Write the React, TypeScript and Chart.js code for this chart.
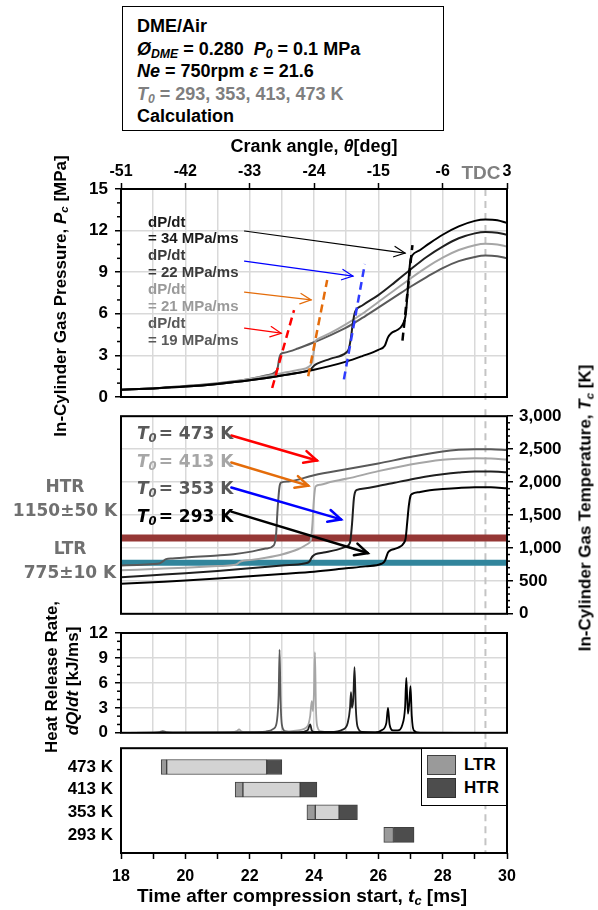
import React, { useEffect, useRef } from 'react';
import { Chart, registerables } from 'chart.js';
Chart.register(...registerables);

const FONT = '"Liberation Sans", Arial, Helvetica, sans-serif';
const FONT2 = '"DejaVu Sans", Verdana, sans-serif';

// ---- axes ----
const tMin = 18;
const tMax = 30;
const tdcTime = 29.33;
const crankMin = -51;
const crankMax = 3;
const crankStep = 9;

// ---- pressure [MPa] ----
const pT293 = [18, 19, 20, 21, 22, 23, 24, 25, 25.5, 26, 26.2, 26.3, 26.4, 26.6, 26.75, 26.85, 26.9, 26.95, 27.0, 27.05, 27.3, 27.6, 28, 28.5, 29, 29.33, 29.7, 30];
const pV293 = [0.52, 0.62, 0.75, 0.94, 1.2, 1.55, 1.97, 2.55, 2.95, 3.4, 3.7, 4.3, 4.6, 4.85, 5.2, 5.9, 7.2, 8.8, 9.9, 10.2, 10.6, 11.1, 11.7, 12.3, 12.7, 12.8, 12.75, 12.55];
const pT353 = [18, 19, 20, 21, 22, 23, 23.8, 23.9, 24.0, 24.1, 24.5, 25.0, 25.08, 25.15, 25.2, 25.25, 25.3, 25.5, 26, 26.5, 27, 27.5, 28, 28.5, 29, 29.33, 29.7, 30];
const pV353 = [0.52, 0.62, 0.75, 0.94, 1.2, 1.55, 1.9, 2.0, 2.25, 2.4, 2.75, 3.2, 3.45, 4.3, 5.2, 5.9, 6.25, 6.6, 7.35, 8.25, 9.2, 10.1, 10.85, 11.45, 11.8, 11.9, 11.85, 11.7];
const pT413 = [18, 19, 20, 21, 21.55, 21.7, 21.8, 22, 22.5, 23, 23.5, 23.85, 23.95, 24.0, 24.05, 24.1, 24.5, 25, 25.5, 26, 26.5, 27, 27.5, 28, 28.5, 29, 29.33, 29.7, 30];
const pV413 = [0.52, 0.62, 0.75, 0.94, 1.1, 1.18, 1.22, 1.3, 1.5, 1.72, 1.95, 2.2, 2.6, 3.4, 4.05, 4.15, 4.6, 5.25, 6.0, 6.85, 7.7, 8.55, 9.35, 10.05, 10.6, 10.95, 11.05, 11.0, 10.85];
const pT473 = [18, 19, 19.25, 19.4, 20, 21, 22, 22.5, 22.8, 22.87, 22.92, 22.97, 23.1, 23.5, 24, 24.5, 25, 25.5, 26, 26.5, 27, 27.5, 28, 28.5, 29, 29.33, 29.7, 30];
const pV473 = [0.52, 0.62, 0.65, 0.7, 0.8, 1.0, 1.3, 1.55, 1.8, 2.1, 2.8, 3.1, 3.2, 3.5, 3.95, 4.45, 5.0, 5.7, 6.45, 7.2, 7.95, 8.65, 9.3, 9.8, 10.1, 10.2, 10.15, 10.0];

// dashed ignition lines (time, pressure) start / end
const ignT473 = [22.7, 23.38];
const ignP473 = [0.65, 6.27];
const ignT413 = [23.82, 24.41];
const ignP413 = [1.5, 8.44];
const ignT353 = [24.93, 25.58];
const ignP353 = [1.27, 9.59];
const ignT293 = [26.75, 27.06];
const ignP293 = [4.06, 10.96];

// pressure arrows: [t1, p1, t2, p2]
const pArrow293 = [21.84, 11.97, 26.83, 10.38];
const pArrow353 = [21.84, 9.8, 25.21, 8.72];
const pArrow413 = [21.84, 7.57, 23.91, 7.0];
const pArrow473 = [21.84, 4.97, 22.98, 4.6];

// ---- temperature [K] ----
const tT293 = [18, 19, 20, 21, 22, 23, 24, 25, 25.6, 26.1, 26.2, 26.3, 26.4, 26.6, 26.8, 26.85, 26.9, 26.95, 27.0, 27.05, 27.3, 27.6, 28, 28.5, 29, 29.5, 30];
const tV293 = [455, 480, 505, 535, 570, 605, 640, 690, 720, 760, 800, 930, 970, 1000, 1080, 1150, 1400, 1650, 1790, 1820, 1850, 1875, 1893, 1910, 1920, 1920, 1905];
const tT353 = [18, 19, 20, 21, 22, 23, 23.7, 23.85, 23.95, 24.05, 24.3, 24.7, 25.0, 25.12, 25.18, 25.24, 25.3, 25.4, 26, 26.5, 27, 27.5, 28, 28.5, 29, 29.5, 30];
const tV353 = [555, 585, 615, 650, 690, 735, 765, 790, 870, 905, 930, 970, 1020, 1080, 1350, 1750, 1870, 1890, 1940, 1990, 2040, 2085, 2120, 2145, 2160, 2160, 2148];
const tT413 = [18, 19, 20, 21, 21.5, 21.6, 21.7, 21.8, 22, 22.5, 23, 23.5, 23.8, 23.9, 23.95, 24.0, 24.05, 24.2, 24.5, 25, 26, 27, 28, 28.5, 29, 29.5, 30];
const tV413 = [660, 680, 700, 725, 740, 755, 790, 805, 815, 850, 900, 980, 1060, 1120, 1350, 1750, 1935, 1960, 2000, 2049, 2166, 2268, 2340, 2355, 2360, 2358, 2342];
const tT473 = [18, 18.5, 19, 19.2, 19.3, 19.4, 19.6, 20, 21, 21.5, 22, 22.5, 22.75, 22.82, 22.87, 22.92, 22.97, 23.2, 24, 25, 26, 27, 28, 28.5, 29, 29.5, 30];
const tV473 = [732, 742, 755, 765, 795, 830, 840, 855, 885, 905, 940, 990, 1040, 1200, 1600, 1900, 1990, 2010, 2105, 2195, 2283, 2380, 2465, 2490, 2500, 2500, 2485];

const htrLevel = 1150;
const ltrLevel = 775;

// temperature arrows: [t1, T1, t2, T2]
const tArrow473 = [21.43, 2707, 24.09, 2327];
const tArrow413 = [21.43, 2298, 23.82, 1946];
const tArrow353 = [21.43, 1917, 24.84, 1434];
const tArrow293 = [21.43, 1551, 25.67, 922];

// ---- heat release rate [kJ/ms] ----
const hT473 = [18, 19.0, 19.2, 19.3, 19.4, 19.6, 21.0, 22.0, 22.5, 22.75, 22.85, 22.9, 22.93, 22.96, 23.0, 23.1, 23.5, 30];
const hV473 = [0, 0.02, 0.08, 0.2, 0.08, 0.03, 0.03, 0.06, 0.15, 0.5, 1.5, 4.5, 10.0, 4.0, 1.0, 0.2, 0.05, 0];
const hT413 = [18, 21.4, 21.6, 21.67, 21.75, 22.0, 23.0, 23.5, 23.8, 23.88, 23.93, 23.97, 24.0, 24.03, 24.06, 24.1, 24.2, 24.5, 30];
const hV413 = [0, 0.03, 0.2, 0.4, 0.15, 0.05, 0.1, 0.3, 0.8, 2.0, 3.8, 2.6, 5.0, 9.7, 3.0, 0.8, 0.2, 0.05, 0];
const hT353 = [18, 23.5, 23.8, 23.88, 23.93, 24.0, 24.5, 24.9, 25.05, 25.12, 25.15, 25.18, 25.22, 25.26, 25.3, 25.35, 25.5, 26, 30];
const hV353 = [0, 0.05, 0.3, 1.0, 0.3, 0.1, 0.1, 0.4, 1.2, 3.0, 4.9, 3.0, 4.0, 7.9, 3.0, 0.8, 0.1, 0, 0];
const hT293 = [18, 25.9, 26.1, 26.25, 26.3, 26.35, 26.45, 26.6, 26.75, 26.83, 26.87, 26.92, 26.96, 27.0, 27.04, 27.1, 27.3, 30];
const hV293 = [0, 0.05, 0.3, 1.2, 3.0, 1.0, 0.3, 0.3, 1.0, 3.0, 6.6, 2.3, 3.5, 5.6, 2.0, 0.3, 0, 0];

// ---- reaction periods [ms] ----
const rowLabels = ['473 K', '413 K', '353 K', '293 K'];
const rowPos = [4, 3, 2, 1];
const ltrStart = [19.25, 21.55, 23.78, 26.17];
const ltrEnd = [19.42, 21.79, 24.04, 26.47];
const ntcEnd = [22.53, 23.57, 24.78, null];
const htrEnd = [23.0, 24.09, 25.35, 27.11];

// ---- colours ----
const c473 = '#595959';
const c413 = '#a6a6a6';
const c353 = '#1f1f1f';
const c293 = '#000000';
const GRID = '#d9d9d9';

const zip = (xs: number[], ys: number[]) => xs.map((x, i) => ({ x, y: ys[i] }));

type Arrow = { a: number[]; color: string; width: number; head: number };
type Minor = { id: string; step: number; major: number; len: number; side: 'left' | 'right' | 'bottom' };

function overlay(cfg: { yId: string; arrows?: Arrow[]; minor?: Minor[]; tdc: { up: number; down: number } }) {
  return {
    id: 'overlay',
    beforeDatasetsDraw(chart: any) {
      const { ctx, chartArea } = chart;
      const x = chart.scales.x.getPixelForValue(tdcTime);
      ctx.save();
      ctx.strokeStyle = '#c4c4c4';
      ctx.lineWidth = 2;
      ctx.setLineDash([7, 5]);
      ctx.beginPath();
      ctx.moveTo(x, chartArea.top - cfg.tdc.up);
      ctx.lineTo(x, chartArea.bottom + cfg.tdc.down);
      ctx.stroke();
      ctx.restore();
    },
    afterDatasetsDraw(chart: any) {
      const { ctx } = chart;
      const xs = chart.scales.x;
      const ys = chart.scales[cfg.yId];
      (cfg.arrows || []).forEach((ar) => {
        const x1 = xs.getPixelForValue(ar.a[0]);
        const y1 = ys.getPixelForValue(ar.a[1]);
        const x2 = xs.getPixelForValue(ar.a[2]);
        const y2 = ys.getPixelForValue(ar.a[3]);
        const ang = Math.atan2(y2 - y1, x2 - x1);
        ctx.save();
        ctx.strokeStyle = ar.color;
        ctx.lineWidth = ar.width;
        ctx.lineCap = 'round';
        ctx.beginPath();
        ctx.moveTo(x1, y1);
        ctx.lineTo(x2, y2);
        ctx.stroke();
        ctx.beginPath();
        ctx.moveTo(x2 - ar.head * Math.cos(ang - 0.45), y2 - ar.head * Math.sin(ang - 0.45));
        ctx.lineTo(x2, y2);
        ctx.lineTo(x2 - ar.head * Math.cos(ang + 0.45), y2 - ar.head * Math.sin(ang + 0.45));
        ctx.stroke();
        ctx.restore();
      });
    },
    afterDraw(chart: any) {
      const { ctx, chartArea } = chart;
      ctx.save();
      ctx.strokeStyle = '#000';
      ctx.lineWidth = 1.5;
      (cfg.minor || []).forEach((m) => {
        const s = chart.scales[m.id];
        for (let v = s.min; v <= s.max + 1e-9; v += m.step) {
          const r = v / m.major;
          if (Math.abs(r - Math.round(r)) < 1e-6) continue;
          const p = s.getPixelForValue(v);
          ctx.beginPath();
          if (m.side === 'left') { ctx.moveTo(chartArea.left - m.len, p); ctx.lineTo(chartArea.left, p); }
          else if (m.side === 'right') { ctx.moveTo(chartArea.right, p); ctx.lineTo(chartArea.right + m.len, p); }
          else { ctx.moveTo(p, chartArea.bottom); ctx.lineTo(p, chartArea.bottom + m.len); }
          ctx.stroke();
        }
      });
      ctx.lineWidth = 2;
      ctx.strokeRect(chartArea.left, chartArea.top, chartArea.right - chartArea.left, chartArea.bottom - chartArea.top);
      ctx.restore();
    },
  };
}

const tickFont = { family: FONT, size: 17, weight: 'bold' as const };

const xGridOnly = () => ({
  type: 'linear' as const,
  position: 'bottom' as const,
  min: tMin,
  max: tMax,
  offset: false,
  ticks: { stepSize: 1, display: false },
  grid: { color: GRID, lineWidth: 1.5, drawTicks: false },
  border: { display: false },
  afterFit: (s: any) => { s.height = 0; },
});

const curve = (label: string, xs: number[], ys: number[], color: string, width: number, order: number) => ({
  label,
  data: zip(xs, ys),
  borderColor: color,
  borderWidth: width,
  pointRadius: 0,
  cubicInterpolationMode: 'monotone' as const,
  fill: false,
  order,
});

const dashed = (label: string, xs: number[], ys: number[], color: string) => ({
  label,
  data: zip(xs, ys),
  borderColor: color,
  borderWidth: 2.5,
  borderDash: [8, 5],
  pointRadius: 0,
  tension: 0,
  fill: false,
  order: 0,
});

const baseOpts = {
  animation: false as const,
  responsive: false,
  maintainAspectRatio: false,
  events: [] as any[],
  plugins: { legend: { display: false }, tooltip: { enabled: false } },
};

export default function App() {
  const r1 = useRef<HTMLCanvasElement>(null);
  const r2 = useRef<HTMLCanvasElement>(null);
  const r3 = useRef<HTMLCanvasElement>(null);
  const r4 = useRef<HTMLCanvasElement>(null);

  useEffect(() => {
    const charts: Chart[] = [];

    // Pressure
    charts.push(new Chart(r1.current!, {
      type: 'line',
      data: {
        datasets: [
          curve('293 K', pT293, pV293, c293, 2, 1),
          curve('353 K', pT353, pV353, c353, 2, 2),
          curve('413 K', pT413, pV413, c413, 2, 3),
          curve('473 K', pT473, pV473, c473, 2, 4),
          dashed('ign 473', ignT473, ignP473, '#ff0000'),
          dashed('ign 413', ignT413, ignP413, '#e46c0a'),
          dashed('ign 353', ignT353, ignP353, '#2f3cff'),
          dashed('ign 293', ignT293, ignP293, '#000000'),
        ] as any,
      },
      options: {
        ...baseOpts,
        layout: { padding: { left: 0, right: 91, top: 0, bottom: 23 } },
        scales: {
          x: xGridOnly(),
          xTop: {
            type: 'linear', position: 'top', min: crankMin, max: crankMax,
            ticks: { stepSize: crankStep, font: { family: FONT, size: 16, weight: 'bold' }, color: '#000', padding: 2, maxRotation: 0 },
            grid: { drawOnChartArea: false, tickLength: 6, tickColor: '#000', tickWidth: 1.5 },
            border: { display: false },
            afterFit: (s: any) => { s.height = 39; },
          },
          y: {
            type: 'linear', position: 'left', min: 0, max: 15,
            ticks: { stepSize: 3, font: tickFont, color: '#000', padding: 7 },
            grid: { color: GRID, lineWidth: 1.5, tickLength: 6, tickColor: '#000', tickWidth: 1.5 },
            border: { display: false },
            afterFit: (s: any) => { s.width = 121; },
          },
        },
      } as any,
      plugins: [overlay({
        yId: 'y',
        tdc: { up: 0, down: 7 },
        minor: [{ id: 'y', step: 1, major: 3, len: 4, side: 'left' }],
        arrows: [
          { a: pArrow293, color: '#000000', width: 1.2, head: 12 },
          { a: pArrow353, color: '#0000ff', width: 1.2, head: 12 },
          { a: pArrow413, color: '#e46c0a', width: 1.2, head: 12 },
          { a: pArrow473, color: '#ff0000', width: 1.2, head: 12 },
        ],
      })],
    }));

    // Temperature
    charts.push(new Chart(r2.current!, {
      type: 'line',
      data: {
        datasets: [
          curve('293 K', tT293, tV293, c293, 2, 1),
          curve('353 K', tT353, tV353, c353, 2, 2),
          curve('413 K', tT413, tV413, c413, 2, 3),
          curve('473 K', tT473, tV473, c473, 2, 4),
          { label: 'HTR', data: zip([tMin, tMax], [htrLevel, htrLevel]), borderColor: '#953735', borderWidth: 7, pointRadius: 0, order: 6 },
          { label: 'LTR', data: zip([tMin, tMax], [ltrLevel, ltrLevel]), borderColor: '#31859c', borderWidth: 6, pointRadius: 0, order: 6 },
        ] as any,
      },
      options: {
        ...baseOpts,
        layout: { padding: { left: 121, right: 0, top: 11, bottom: 12 } },
        scales: {
          x: xGridOnly(),
          y: {
            type: 'linear', position: 'right', min: 0, max: 3000,
            ticks: { stepSize: 500, font: tickFont, color: '#000', padding: 6, callback: (v: any) => Number(v).toLocaleString('en-US') },
            grid: { color: GRID, lineWidth: 1.5, tickLength: 6, tickColor: '#000', tickWidth: 1.5 },
            border: { display: false },
            afterFit: (s: any) => { s.width = 91; },
          },
        },
      } as any,
      plugins: [overlay({
        yId: 'y',
        tdc: { up: 7, down: 8 },
        minor: [{ id: 'y', step: 100, major: 500, len: 3, side: 'right' }],
        arrows: [
          { a: tArrow473, color: '#ff0000', width: 2.5, head: 14 },
          { a: tArrow413, color: '#e46c0a', width: 2.5, head: 14 },
          { a: tArrow353, color: '#0000ff', width: 2.5, head: 14 },
          { a: tArrow293, color: '#000000', width: 2.5, head: 14 },
        ],
      })],
    }));

    // Heat release rate
    charts.push(new Chart(r3.current!, {
      type: 'line',
      data: {
        datasets: [
          curve('293 K', hT293, hV293, c293, 1.8, 1),
          curve('353 K', hT353, hV353, c353, 1.8, 2),
          curve('413 K', hT413, hV413, c413, 1.8, 3),
          curve('473 K', hT473, hV473, c473, 1.8, 4),
        ] as any,
      },
      options: {
        ...baseOpts,
        layout: { padding: { left: 0, right: 91, top: 18, bottom: 14 } },
        scales: {
          x: xGridOnly(),
          y: {
            type: 'linear', position: 'left', min: 0, max: 12,
            ticks: { stepSize: 3, font: tickFont, color: '#000', padding: 7 },
            grid: { color: GRID, lineWidth: 1.5, tickLength: 6, tickColor: '#000', tickWidth: 1.5 },
            border: { display: false },
            afterFit: (s: any) => { s.width = 121; },
          },
        },
      } as any,
      plugins: [overlay({
        yId: 'y',
        tdc: { up: 8, down: 6 },
        minor: [{ id: 'y', step: 1, major: 3, len: 4, side: 'left' }],
      })],
    }));

    // Reaction periods
    const seg = (label: string, starts: (number | null)[], ends: (number | null)[], color: string) => ({
      label,
      data: rowPos
        .map((p, i) => (starts[i] != null && ends[i] != null ? { x: [starts[i], ends[i]], y: p } : null))
        .filter((d) => d !== null),
      backgroundColor: color,
      borderColor: '#404040',
      borderWidth: 1,
      borderSkipped: false,
      barThickness: 15,
      grouped: false,
    });
    charts.push(new Chart(r4.current!, {
      type: 'bar',
      data: {
        datasets: [
          seg('LTR', ltrStart, ltrEnd, '#9a9a9a'),
          seg('NTC', ltrEnd, ntcEnd, '#d3d3d3'),
          seg('HTR', ntcEnd.map((v, i) => (v == null ? ltrEnd[i] : v)), htrEnd, '#4d4d4d'),
        ] as any,
      },
      options: {
        ...baseOpts,
        indexAxis: 'y',
        layout: { padding: { left: 0, right: 91, top: 18, bottom: 0 } },
        scales: {
          x: {
            type: 'linear', position: 'bottom', min: tMin, max: tMax, offset: false,
            ticks: { stepSize: 1, font: { family: FONT, size: 16, weight: 'bold' }, color: '#000', padding: 8, maxRotation: 0, autoSkip: false,
              callback: (v: any) => (Math.round(v) % 2 === 0 ? String(v) : '') },
            grid: { drawOnChartArea: false, tickLength: 6, tickColor: '#000', tickWidth: 1.5 },
            border: { display: false },
            afterFit: (s: any) => { s.height = 57; },
          },
          y: {
            type: 'linear', position: 'left', min: 0.2, max: 4.83, offset: false,
            afterBuildTicks: (s: any) => { s.ticks = rowPos.map((v) => ({ value: v })); },
            ticks: { font: { family: FONT, size: 17, weight: 'bold' }, color: '#000', padding: 8, autoSkip: false,
              callback: (v: any) => rowLabels[rowPos.indexOf(Math.round(v))] ?? '' },
            grid: { display: true, offset: false, drawOnChartArea: false, drawTicks: false, color: 'rgba(0,0,0,0)' },
            border: { display: false },
            afterFit: (s: any) => { s.width = 121; },
          },
        },
      } as any,
      plugins: [overlay({ yId: 'y', tdc: { up: 6, down: 0 } })],
    }));

    return () => charts.forEach((c) => c.destroy());
  }, []);

  const abs = (left: number, top: number, extra: React.CSSProperties = {}): React.CSSProperties => ({
    position: 'absolute', left, top, ...extra,
  });
  const bold: React.CSSProperties = { fontFamily: FONT, fontWeight: 'bold', whiteSpace: 'nowrap', color: '#000' };
  const rot = (cx: number, cy: number, size: number, extra: React.CSSProperties = {}): React.CSSProperties => ({
    ...bold, position: 'absolute', left: cx, top: cy, fontSize: size, lineHeight: 1,
    transform: 'translate(-50%, -50%) rotate(-90deg)', ...extra,
  });
  const sub = (t: string, italic = true) => (
    <sub style={{ fontSize: '0.68em', verticalAlign: '-0.25em', lineHeight: 0, fontStyle: italic ? 'italic' : 'normal' }}>{t}</sub>
  );
  const tLabel = (t: string, top: number, color: string) => (
    <div style={{ ...bold, fontFamily: FONT2, position: 'absolute', left: 137, top, fontSize: 17, lineHeight: '20px', color }}>
      <i>T</i>{sub('0')}<span style={{ marginLeft: 2 }}>= {t}</span>
    </div>
  );

  return (
    <div style={{ position: 'fixed', left: 0, top: 0, width: 598, height: 910, background: '#fff', overflow: 'hidden' }}>
      <canvas ref={r1} width={598} height={270} style={abs(0, 150, { width: 598, height: 270 })} />
      <canvas ref={r2} width={598} height={230} style={abs(0, 400, { width: 598, height: 230 })} />
      <canvas ref={r3} width={598} height={135} style={abs(0, 615, { width: 598, height: 135 })} />
      <canvas ref={r4} width={598} height={180} style={abs(0, 730, { width: 598, height: 180 })} />

      {/* condition box */}
      <div style={{ ...bold, position: 'absolute', left: 122, top: 6, width: 322, height: 125, boxSizing: 'border-box',
        border: '1.5px solid #000', background: '#fff', fontSize: 18, lineHeight: '22.5px', padding: '8px 0 0 14px' }}>
        <div>DME/Air</div>
        <div><i>Ø</i>{sub('DME')} = 0.280&nbsp;&nbsp;<i>P</i>{sub('0')} = 0.1 MPa</div>
        <div><i>Ne</i> = 750rpm <i>ε</i> = 21.6</div>
        <div style={{ color: '#7f7f7f' }}><i>T</i>{sub('0')} = 293, 353, 413, 473 K</div>
        <div>Calculation</div>
      </div>

      {/* top axis title */}
      <div style={{ ...bold, position: 'absolute', left: 314, top: 146, fontSize: 18, lineHeight: 1, transform: 'translate(-50%, -50%)' }}>
        Crank angle, <i>θ</i>[deg]
      </div>
      <div style={{ ...bold, position: 'absolute', left: 481, top: 172, fontSize: 19, lineHeight: 1, color: '#808080', transform: 'translate(-50%, -50%)' }}>
        TDC
      </div>

      {/* axis titles */}
      <div style={rot(60, 296, 17)}>In-Cylinder Gas Pressure, <i>P</i>{sub('c')} [MPa]</div>
      <div style={rot(585, 508, 17)}>In-Cylinder Gas Temperature, <i>T</i>{sub('c')} [K]</div>
      <div style={rot(51, 677, 17)}>Heat Release Rate,</div>
      <div style={rot(72, 681, 17)}><i>dQ</i>/<i>dt</i> [kJ/ms]</div>
      <div style={{ ...bold, position: 'absolute', left: 302, top: 895, fontSize: 19, lineHeight: 1, transform: 'translate(-50%, -50%)' }}>
        Time after compression start, <i>t</i>{sub('c')} [ms]
      </div>

      {/* dP/dt labels */}
      <div style={{ ...bold, position: 'absolute', left: 148, top: 213.5, fontSize: 15, lineHeight: '16.9px' }}>
        <div style={{ color: '#1a1a1a' }}>dP/dt</div>
        <div style={{ color: '#1a1a1a' }}>= 34 MPa/ms</div>
        <div style={{ color: '#3a3a3a' }}>dP/dt</div>
        <div style={{ color: '#3a3a3a' }}>= 22 MPa/ms</div>
        <div style={{ color: '#9a9a9a' }}>dP/dt</div>
        <div style={{ color: '#9a9a9a' }}>= 21 MPa/ms</div>
        <div style={{ color: '#595959' }}>dP/dt</div>
        <div style={{ color: '#595959' }}>= 19 MPa/ms</div>
      </div>

      {/* temperature labels */}
      {tLabel('473 K', 423, '#595959')}
      {tLabel('413 K', 451, '#a6a6a6')}
      {tLabel('353 K', 478, '#595959')}
      {tLabel('293 K', 506, '#000000')}
      <div style={{ ...bold, fontFamily: FONT2, position: 'absolute', left: 65, top: 498, fontSize: 17, lineHeight: '24px',
        color: '#707070', textAlign: 'center', transform: 'translate(-50%, -50%)' }}>
        <div>HTR</div><div>1150±50 K</div>
      </div>
      <div style={{ ...bold, fontFamily: FONT2, position: 'absolute', left: 70, top: 560, fontSize: 17, lineHeight: '24px',
        color: '#707070', textAlign: 'center', transform: 'translate(-50%, -50%)' }}>
        <div>LTR</div><div>775±10 K</div>
      </div>

      {/* legend */}
      <div style={{ position: 'absolute', left: 421, top: 748, width: 86, height: 58, boxSizing: 'border-box', border: '1.5px solid #000', background: '#fff' }}>
        <div style={{ position: 'absolute', left: 5, top: 6, width: 29, height: 20, boxSizing: 'border-box', background: '#9a9a9a', border: '1px solid #404040' }} />
        <div style={{ ...bold, position: 'absolute', left: 42, top: 6, fontSize: 17, lineHeight: '20px' }}>LTR</div>
        <div style={{ position: 'absolute', left: 5, top: 29, width: 29, height: 20, boxSizing: 'border-box', background: '#4d4d4d', border: '1px solid #303030' }} />
        <div style={{ ...bold, position: 'absolute', left: 42, top: 29, fontSize: 17, lineHeight: '20px' }}>HTR</div>
      </div>
    </div>
  );
}
